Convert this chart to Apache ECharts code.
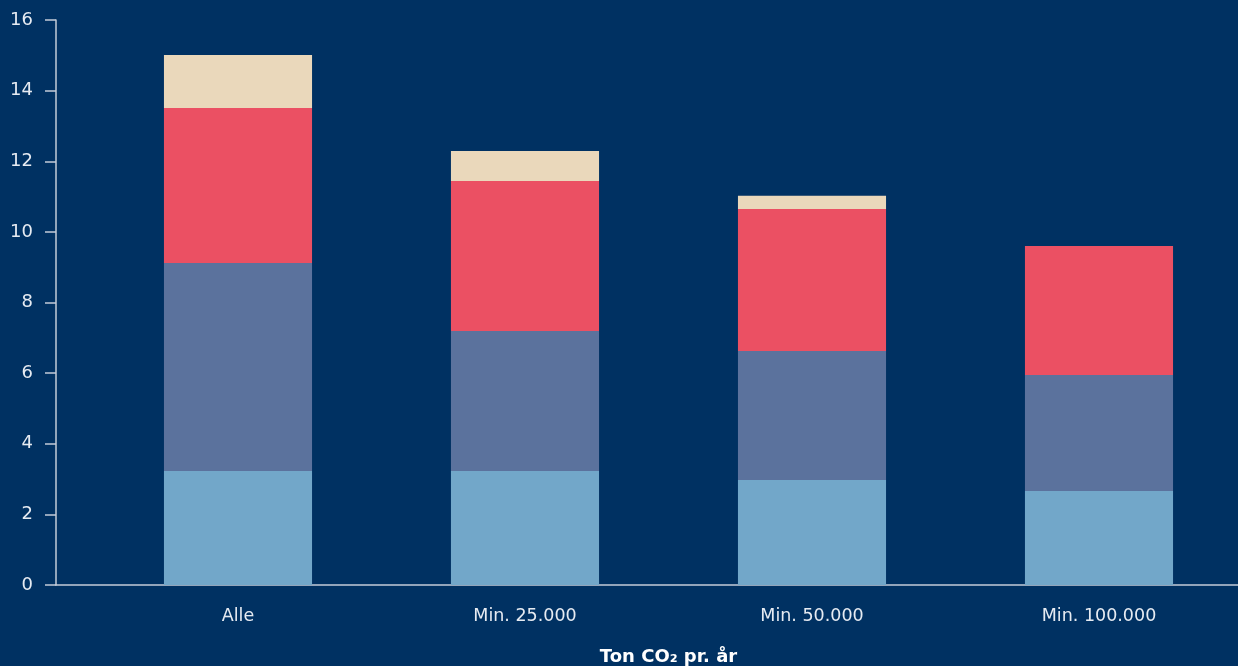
<!DOCTYPE html>
<html><head><meta charset="utf-8">
<script src="https://cdn.jsdelivr.net/npm/echarts@6/dist/echarts.min.js"></script>
<style>html,body{margin:0;padding:0;background:#003162;}#c{width:1238px;height:666px;}</style>
</head><body><div id="c"></div>
<script>
const categories = ['Alle', 'Min. 25.000', 'Min. 50.000', 'Min. 100.000'];
const seriesA = [3.23, 3.23, 2.97, 2.66];
const seriesB = [5.89, 3.96, 3.66, 3.29];
const seriesC = [4.39, 4.25, 4.02, 3.65];
const seriesD = [1.50, 0.85, 0.37, 0];
const yTicks = [0, 2, 4, 6, 8, 10, 12, 14, 16];
const xTitle = 'Ton CO₂ pr. år';

const font = '"DejaVu Sans", sans-serif';
const txt = '#e6ebf2';
const axisCol = '#c3ccd9';
const chart = echarts.init(document.getElementById('c'));
const mk = (name, data, color) => ({
  name, type: 'bar', stack: 's', data, xAxisIndex: 0, yAxisIndex: 0,
  barWidth: '51.6%', itemStyle: { color }, emphasis: { disabled: true }
});
chart.setOption({
  backgroundColor: '#003162',
  animation: false,
  grid: [
    { left: 94.5, right: -4.5, top: 20, bottom: 81, containLabel: false, outerBoundsMode: 'none' },
    { left: 56, right: 0, top: 20, bottom: 81, containLabel: false, outerBoundsMode: 'none' }
  ],
  xAxis: [
    { type: 'category', gridIndex: 0, data: categories,
      axisLine: { show: false }, axisTick: { show: false },
      axisLabel: { color: txt, fontSize: 17.5, fontFamily: font, margin: 22 },
      name: xTitle, nameLocation: 'middle', nameGap: 63,
      nameTextStyle: { color: '#ffffff', fontSize: 18, fontWeight: 'bold', fontFamily: font } },
    { type: 'value', gridIndex: 1, min: 0, max: 1,
      axisLine: { show: true, lineStyle: { color: axisCol, width: 1.5 } },
      axisTick: { show: false }, axisLabel: { show: false }, splitLine: { show: false } }
  ],
  yAxis: [
    { type: 'value', gridIndex: 0, min: yTicks[0], max: yTicks[yTicks.length - 1], interval: 2,
      show: false, splitLine: { show: false } },
    { type: 'value', gridIndex: 1, min: yTicks[0], max: yTicks[yTicks.length - 1], interval: 2,
      axisLine: { show: true, lineStyle: { color: axisCol, width: 1.5 } },
      axisTick: { show: true, length: 11, lineStyle: { color: axisCol, width: 1.5 } },
      axisLabel: { color: txt, fontSize: 18, fontFamily: font, margin: 23 },
      splitLine: { show: false } }
  ],
  series: [
    mk('A', seriesA, '#72a7c9'),
    mk('B', seriesB, '#5b729d'),
    mk('C', seriesC, '#eb5063'),
    mk('D', seriesD, '#ead8bb')
  ]
});
</script></body></html>
